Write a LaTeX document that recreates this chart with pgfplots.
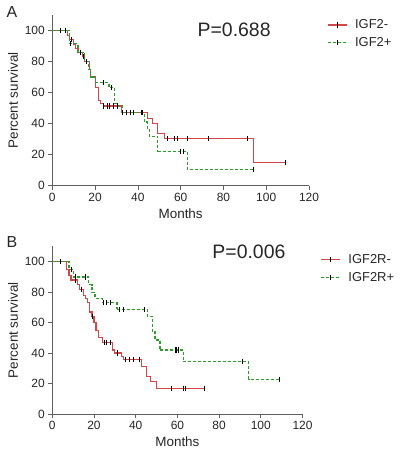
\documentclass[border=0pt]{standalone}
\usepackage{pgfplots}
\pgfplotsset{compat=1.18}
\usepackage{fontspec}
\setmainfont{Liberation Sans}
\definecolor{kmred}{RGB}{214,70,70}
\definecolor{kmgreen}{RGB}{40,160,40}
\definecolor{axgray}{RGB}{95,95,95}
\pgfplotsset{
  kmaxis/.style={
    scale only axis, clip=false,
    xmin=0, xmax=120, ymin=0, ymax=110,
    axis lines=left, axis line style={-, axgray, line width=0.7pt},
    xtick={0,20,...,120}, ytick={0,20,...,100},
    tick align=outside, major tick length=4bp,
    tick style={axgray, line width=0.7pt},
    ticklabel style={font=\fontsize{12}{12}\selectfont, text=black!85},
    /pgf/number format/assume math mode=true,
    xlabel={Months}, ylabel={Percent survival},
    label style={font=\fontsize{13.5}{13.5}\selectfont, text=black!85},
    legend style={draw=none, fill=none, font=\fontsize{13}{13}\selectfont,
      anchor=north west, row sep=3bp, text=black!85, inner sep=0pt,
      /tikz/every odd column/.style={column sep=6bp}},
    legend cell align=left,
  },
  redkm/.style={color=kmred, line width=1.2bp, const plot, no marks,
    legend image code/.code={\draw[kmred,line width=1.2bp] (0bp,0bp)--(19bp,0bp);
      \draw[black,solid,line width=0.8pt] (9.5bp,-2.6bp)--(9.5bp,2.6bp);}},
  greenkm/.style={color=kmgreen, line width=1.2bp, dash pattern=on 3bp off 2bp, const plot, no marks,
    legend image code/.code={\draw[kmgreen,line width=1.2bp,dash pattern=on 3bp off 2bp] (0bp,0bp)--(19bp,0bp);
      \draw[black,solid,line width=0.8pt] (9.5bp,-2.6bp)--(9.5bp,2.6bp);}},
  cens/.style={only marks, mark=|, mark size=2.6bp, black, mark options={line width=0.8pt}, forget plot},
}
\begin{document}
\begin{tikzpicture}
\path[use as bounding box] (0bp,0bp) rectangle (406bp,456bp);
\node[font=\fontsize{16}{16}\selectfont, text=black!85] at (12bp,443.5bp) {A};
\node[font=\fontsize{16}{16}\selectfont, text=black!85] at (12bp,214bp) {B};
% Panel A
\begin{axis}[kmaxis, at={(52.3bp,270.3bp)}, anchor=south west,
  width=256.7bp, height=170.8bp,
  legend style={at={(axis description cs:1.069,0.985)}}]
\addplot[redkm] coordinates {(0,100)(7,96.5)(8,94)(10,91)(11,88.5)(12,86)(14,83)(15,80)(17.5,75)(18,70)(20.2,63)(21.5,55)(22.5,53)(24,51.3)(32.3,47)(44.6,43.4)(46.7,40.2)(49,33.7)(52.4,30.3)(94,15)(109,15)};
\addlegendentry{IGF2-}
\addplot[greenkm] coordinates {(0,100)(8,91.5)(12,86)(15,80)(17,75)(18,70)(20.2,66.3)(26.5,63)(29.2,53)};
\addlegendentry{IGF2+}
\addplot[greenkm, forget plot] coordinates {(29.2,53)(31,51.3)(33,47)(43.1,41)(44.5,37)(45.5,31.6)(49.3,21.9)};
\addplot[greenkm, forget plot] coordinates {(49.3,21.9)(63.1,10.6)(94,10.6)};
\addplot[cens] coordinates {(4,100)(6,100)(9,94)(13,86)(14.5,83)(16,80)(24,51.3)(25.6,51.3)(26.8,51.3)(28.4,51.3)(30.2,51.3)(33,47)(34.6,47)(36.4,47)(38,47)(41.6,47)(54,30.3)(57,30.3)(58.6,30.3)(63.2,30.3)(73,30.3)(91,30.3)(109,15)};
\addplot[cens] coordinates {(8.5,91.5)(24,66.3)(27.5,63)(42,47)(60,21.9)(61.5,21.9)(94,10.6)};
\node[font=\fontsize{19.5}{19.5}\selectfont, text=black!85] at (axis cs:85,100.3) {P=0.688};
\end{axis}
% Panel B
\begin{axis}[kmaxis, at={(52.3bp,42bp)}, anchor=south west,
  width=250.2bp, height=167.5bp,
  legend style={at={(axis description cs:1.07,0.965)}}]
\addplot[redkm] coordinates {(0,100)(7,95)(8,91)(9,88)(12,85)(13,82)(15,78)(16,76)(17,73)(18,67)(19,64)(20,60)(21,55)(22,50)(24,47)(29,42)(30,40)(33,38)(34,35.9)(42.9,31)(45.2,24.5)(47.2,21.2)(50,16.9)(73,16.9)};
\addlegendentry{IGF2R-}
\addplot[greenkm] coordinates {(0,100)(8,95)(10,90)(17.5,85)(19,80)(20.5,76)(24,73)(31,68.7)};
\addlegendentry{IGF2R+}
\addplot[greenkm, forget plot] coordinates {(31,68.7)(45.6,63.9)(48.2,54)(49.3,48.6)(51.7,42)};
\addplot[greenkm, forget plot] coordinates {(51.7,42)(62.8,34.3)(94.2,22.8)(109,22.8)};
\addplot[cens] coordinates {(4,100)(11,88)(14,82)(19,64)(25,47)(26,47)(28,47)(31,40)(35,35.9)(37,35.9)(39,35.9)(42,35.9)(57.2,16.9)(62.8,16.9)(63.6,16.9)(73,16.9)};
\addplot[cens] coordinates {(9,95)(11,90)(16,90)(24.5,73)(26,73)(28,73)(32,68.7)(34,68.7)(44,68.7)(58.8,42)(59.7,42)(60.4,42)(91,34.3)(109,22.8)};
\node[font=\fontsize{19.5}{19.5}\selectfont, text=black!85] at (axis cs:94.3,106.4) {P=0.006};
\end{axis}
\end{tikzpicture}
\end{document}
